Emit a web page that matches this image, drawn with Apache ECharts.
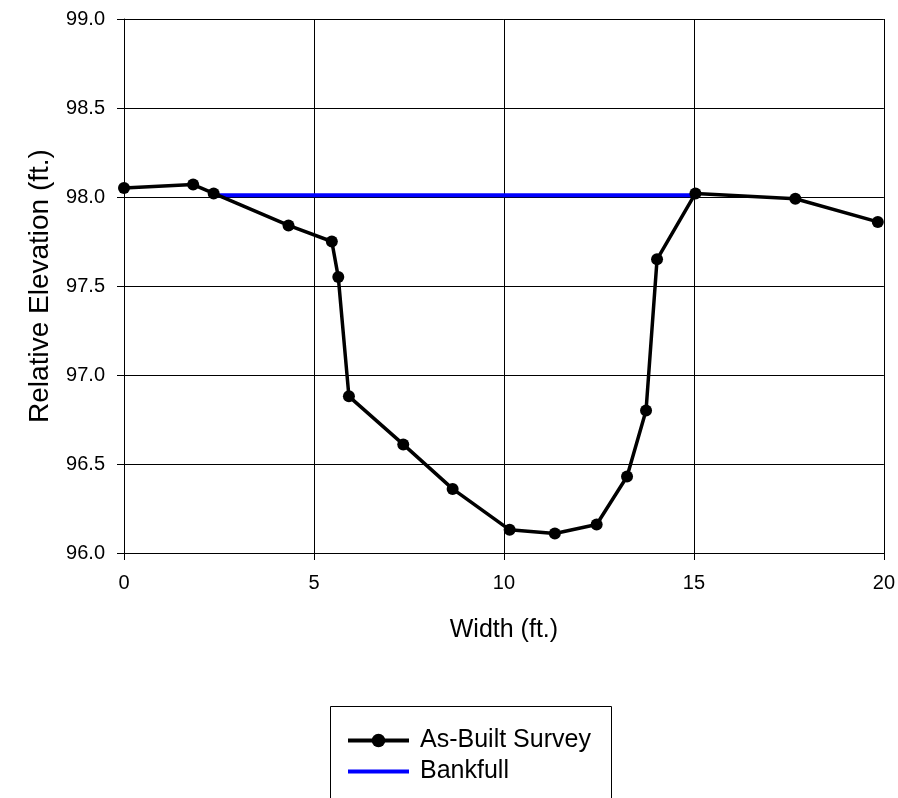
<!DOCTYPE html>
<html>
<head>
<meta charset="utf-8">
<script src="https://cdn.jsdelivr.net/npm/echarts@6/dist/echarts.min.js"></script>
<style>
	html, body { margin: 0; padding: 0; background: #fff; }
	#chart { width: 898px; height: 798px; }
</style>
</head>
<body>
<div id="chart"></div>
<script>
var surveyWidth = [0, 1.82, 2.36, 4.33, 5.47, 5.64, 5.92, 7.35, 8.65, 10.15, 11.34, 12.44, 13.24, 13.74, 14.03, 15.04, 17.67, 19.84];
var surveyElev = [98.05, 98.07, 98.02, 97.84, 97.75, 97.55, 96.88, 96.61, 96.36, 96.13, 96.11, 96.16, 96.43, 96.80, 97.65, 98.02, 97.99, 97.86];
var bankfullWidth = [2.36, 15.04];
var bankfullElev = [98.01, 98.01];
var seriesNames = ['As-Built Survey', 'Bankfull'];

var font = 'Liberation Sans, Arial, sans-serif';

function pairs(xs, ys) {
	var out = [];
	for (var i = 0; i < xs.length; i++) {
		out.push([xs[i], ys[i]]);
	}
	return out;
}

var chart = echarts.init(document.getElementById('chart'));
var option = {
	backgroundColor: '#fff',
	animation: false,
	textStyle: { fontFamily: font, color: '#000' },
	grid: { left: 124, right: 13, top: 19, bottom: 245, containLabel: false },
	// legend frame runs off the bottom edge like the original
	graphic: [{
		type: 'rect',
		shape: { x: 330.5, y: 706.5, width: 281, height: 140 },
		style: { fill: 'none', stroke: '#000', lineWidth: 1 },
		silent: true
	}],
	legend: {
		orient: 'vertical',
		left: 330,
		top: 706,
		padding: [22, 10, 5, 16],
		itemWidth: 61,
		itemHeight: 17,
		itemGap: 6,
		lineStyle: { width: 4 },
		textStyle: { fontFamily: font, fontSize: 25, color: '#000', lineHeight: 25, padding: [0, 0, 0, 6] },
		data: [
			{ name: seriesNames[0] },
			{ name: seriesNames[1], itemStyle: { opacity: 0 } }
		]
	},
	xAxis: {
		type: 'value',
		min: 0,
		max: 20,
		interval: 5,
		name: 'Width (ft.)',
		nameLocation: 'middle',
		nameGap: 65,
		nameTextStyle: { fontFamily: font, fontSize: 25, color: '#000' },
		axisLine: { lineStyle: { color: '#000', width: 1 } },
		axisTick: { show: true, inside: false, length: 7, lineStyle: { color: '#000' } },
		axisLabel: { fontFamily: font, fontSize: 20, color: '#000', margin: 20 },
		splitLine: { show: true, lineStyle: { color: '#000', width: 1 } }
	},
	yAxis: {
		type: 'value',
		min: 96,
		max: 99,
		interval: 0.5,
		name: 'Relative Elevation (ft.)',
		nameLocation: 'middle',
		nameGap: 70,
		nameTextStyle: { fontFamily: font, fontSize: 28, color: '#000' },
		axisLine: { show: true, lineStyle: { color: '#000', width: 1 } },
		axisTick: { show: true, inside: false, length: 7, lineStyle: { color: '#000' } },
		axisLabel: {
			fontFamily: font, fontSize: 20, color: '#000', margin: 19,
			formatter: function (v) { return v.toFixed(1); }
		},
		splitLine: { show: true, lineStyle: { color: '#000', width: 1 } }
	},
	series: [{
		name: seriesNames[0],
		type: 'line',
		data: pairs(surveyWidth, surveyElev),
		symbol: 'circle',
		symbolSize: 12,
		itemStyle: { color: '#000' },
		lineStyle: { color: '#000', width: 3.5 },
		z: 3
	}, {
		name: seriesNames[1],
		type: 'line',
		data: pairs(bankfullWidth, bankfullElev),
		symbol: 'none',
		itemStyle: { color: '#0000ff' },
		lineStyle: { color: '#0000ff', width: 4 },
		z: 2
	}]
};
chart.setOption(option);
</script>
</body>
</html>
